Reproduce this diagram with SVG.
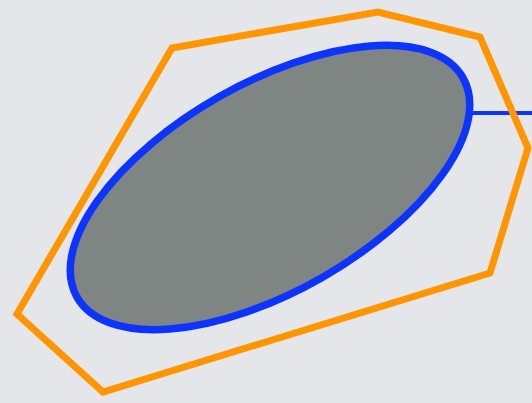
<svg xmlns="http://www.w3.org/2000/svg" width="532" height="403" viewBox="0 0 532 403">
<style>
.hull{fill:none;stroke:#ff9500;stroke-width:7;stroke-linejoin:miter}
.blob{fill:#7f8582;stroke:#0d33ff;stroke-width:7.5}
.conn{fill:none;stroke:#0d33ff;stroke-width:4}
</style>
<rect width="532" height="403" fill="#e5e6ea"/>
<g id="connectors">
<line class="conn" x1="465" y1="113" x2="532" y2="113"/>
</g>
<g id="hull">
<polygon class="hull" points="172,48 378,12 480,37 528,148 490,273 103,392 17,314"/>
</g>
<g id="ellipse">
<ellipse class="blob" cx="270" cy="187.5" rx="222" ry="104" transform="rotate(-29.6 270 187.5)"/>
</g>
</svg>
